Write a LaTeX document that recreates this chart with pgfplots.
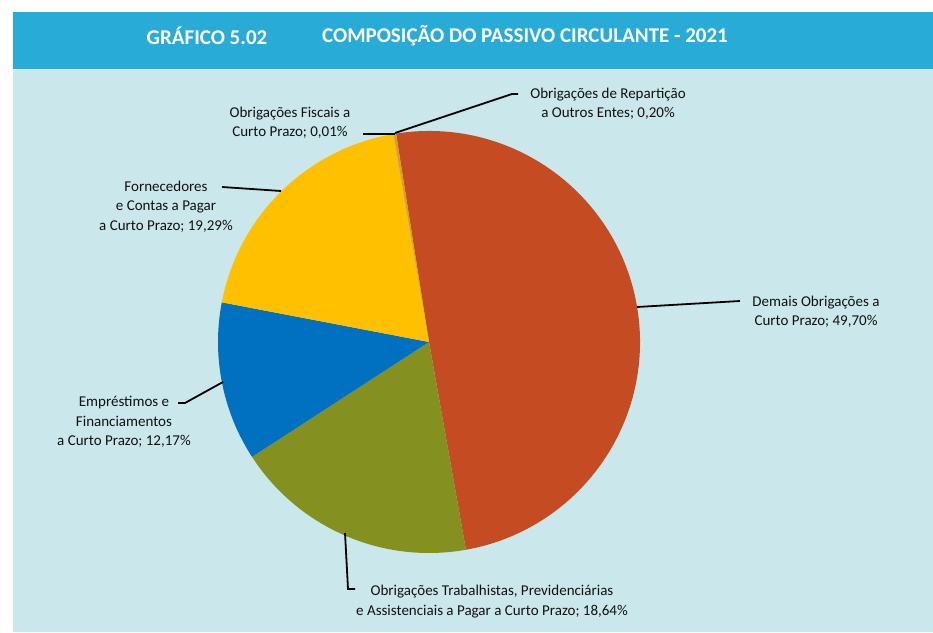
\documentclass[border=0pt]{standalone}
\usepackage{pgfplots}
\pgfplotsset{compat=1.18}
\usepackage{fontspec}
\setmainfont{Carlito}
\definecolor{hdr}{HTML}{29ABD8}
\definecolor{bg}{HTML}{CAE8EC}
\definecolor{cdem}{HTML}{C54B23}
\definecolor{ctrab}{HTML}{849121}
\definecolor{cemp}{HTML}{0070C0}
\definecolor{cforn}{HTML}{FFC000}
\definecolor{cfisc}{HTML}{A5A5A5}
\definecolor{crep}{HTML}{D9A21E}
\definecolor{txt}{HTML}{111111}
\begin{document}
\begin{tikzpicture}[x=1pt,y=1pt]
% shares (%), clockwise from the top
\pgfmathsetmacro\aA{99}
\pgfmathsetmacro\aB{\aA-49.70*3.6}
\pgfmathsetmacro\aC{\aB-18.64*3.6}
\pgfmathsetmacro\aD{\aC-12.17*3.6}
\pgfmathsetmacro\aE{\aD-19.29*3.6}
\pgfmathsetmacro\aF{\aE-0.01*3.6}
\pgfmathsetmacro\aG{\aF-0.20*3.6}
\fill[white] (0,0) rectangle (933,632);
\fill[hdr] (13,632-12) rectangle (933,632-69);
\fill[bg] (13,632-70) rectangle (933,0);
\begin{axis}[hide axis, scale only axis, width=506.4pt, height=506.4pt,
  xmin=-1.2, xmax=1.2, ymin=-1.2, ymax=1.2, anchor=center, at={(429pt,290pt)}, clip=false]
\addplot[draw=none, fill=cdem] coordinates {(0,0)} -- (axis cs:{cos(\aA)},{sin(\aA)}) arc[start angle=\aA, end angle=\aB, radius=211pt] -- cycle;
\addplot[draw=none, fill=ctrab] coordinates {(0,0)} -- (axis cs:{cos(\aB)},{sin(\aB)}) arc[start angle=\aB, end angle=\aC, radius=211pt] -- cycle;
\addplot[draw=none, fill=cemp] coordinates {(0,0)} -- (axis cs:{cos(\aC)},{sin(\aC)}) arc[start angle=\aC, end angle=\aD, radius=211pt] -- cycle;
\addplot[draw=none, fill=cforn] coordinates {(0,0)} -- (axis cs:{cos(\aD)},{sin(\aD)}) arc[start angle=\aD, end angle=\aE, radius=211pt] -- cycle;
\addplot[draw=none, fill=cfisc] coordinates {(0,0)} -- (axis cs:{cos(\aE)},{sin(\aE)}) arc[start angle=\aE, end angle=\aF, radius=211pt] -- cycle;
\addplot[draw=none, fill=crep] coordinates {(0,0)} -- (axis cs:{cos(\aF)},{sin(\aF)}) arc[start angle=\aF, end angle=\aG, radius=211pt] -- cycle;
\end{axis}
\begin{scope}[yshift=632pt, y=-1pt]
\node[white, font=\fontsize{21}{25}\selectfont\bfseries] at (207,36) {GRÁFICO 5.02};
\node[white, font=\fontsize{21}{25}\selectfont\bfseries] at (525,36) {COMPOSIÇÃO DO PASSIVO CIRCULANTE - 2021};
\tikzset{lead/.style={black, line width=1.8pt}}
\draw[lead] (363,134) -- (395,134);
\draw[lead] (395,133) -- (512,94) -- (518,94);
\draw[lead] (222,187) -- (281,191);
\draw[lead] (637,307) -- (740,301);
\draw[lead] (178,403) -- (185,403) -- (223,382);
\draw[lead] (345,533) -- (348,589) -- (355,589);
\tikzset{lab/.style={txt, align=center, inner sep=0pt, font=\fontsize{15}{19.3}\selectfont}}
\node[lab] at (290,122.5) {Obrigações Fiscais a\\Curto Prazo; 0,01\%};
\node[lab] at (608,104) {Obrigações de Repartição\\a Outros Entes; 0,20\%};
\node[lab] at (166,206.5) {Fornecedores\\e Contas a Pagar\\a Curto Prazo; 19,29\%};
\node[lab] at (816,312) {Demais Obrigações a\\Curto Prazo; 49,70\%};
\node[lab] at (124,422) {Empréstimos e\\Financiamentos\\a Curto Prazo; 12,17\%};
\node[lab] at (492,601.5) {Obrigações Trabalhistas, Previdenciárias\\e Assistenciais a Pagar a Curto Prazo; 18,64\%};
\end{scope}
\end{tikzpicture}
\end{document}
